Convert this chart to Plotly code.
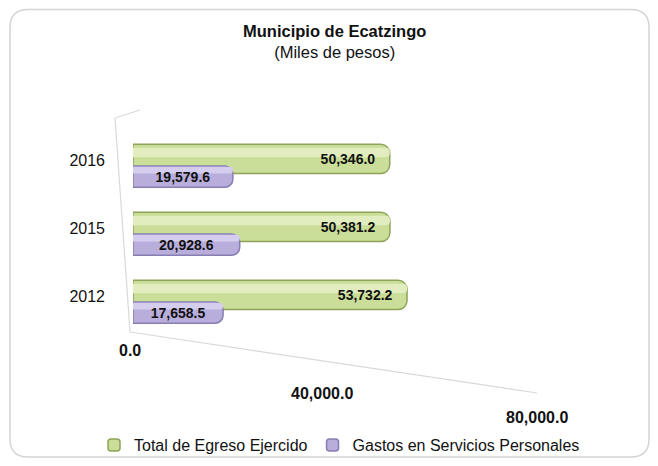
import plotly.graph_objects as go

# ---- data ----
years = ["2012", "2015", "2016"]
total_egreso = [53732.2, 50381.2, 50346.0]
servicios_personales = [17658.5, 20928.6, 19579.6]
x_tick_values = [0, 40000, 80000]
x_tick_labels = ["0.0", "40,000.0", "80,000.0"]
series_names = ["Total de Egreso Ejercido", "Gastos en Servicios Personales"]
title_text = "Municipio de Ecatzingo"
subtitle_text = "(Miles de pesos)"

# ---- geometry: page px -> figure (body margin 8px) ----
OFF = 8
W, H = 650, 450
PL, PT = 133, 126          # plot area top-left in page px
PW, PH = 408, 204
L, T = PL - OFF, PT - OFF
R, B = W - L - PW, H - T - PH


def px(x):
    return (x - PL) / PW


def py(y):
    return (PT + PH - y) / PH


FONT = "Liberation Sans, Arial, sans-serif"
GREEN, GREEN_HI, GREEN_LINE = "#cadd99", "#e1edbf", "#8fa45a"
PURPLE, PURPLE_HI, PURPLE_LINE = "#b9aedb", "#d5cdee", "#877eb2"
TXT = "#111111"
lab_font = dict(family=FONT, size=14, color=TXT, weight="bold")

fig = go.Figure()
# base bars (legend entries)
fig.add_trace(go.Bar(
    y=years, x=total_egreso, orientation="h", name=series_names[0],
    width=0.43, offset=-0.2,
    marker=dict(color=GREEN, line=dict(color=GREEN_LINE, width=1.5), cornerradius=9),
    hoverinfo="x+y",
))
fig.add_trace(go.Bar(
    y=years, x=total_egreso, orientation="h", showlegend=False,
    width=0.14, offset=0.04,
    marker=dict(color=GREEN_HI, line=dict(width=0), cornerradius=4),
    hoverinfo="skip",
))
fig.add_trace(go.Bar(
    y=years, x=servicios_personales, orientation="h", name=series_names[1],
    width=0.31, offset=-0.4,
    marker=dict(color=PURPLE, line=dict(color=PURPLE_LINE, width=1.5), cornerradius=8),
    hoverinfo="x+y",
))
fig.add_trace(go.Bar(
    y=years, x=servicios_personales, orientation="h", showlegend=False,
    width=0.1, offset=-0.2,
    marker=dict(color=PURPLE_HI, line=dict(width=0), cornerradius=3),
    hoverinfo="skip",
))
# value labels (transparent carriers on top)
fig.add_trace(go.Bar(
    y=years, x=total_egreso, orientation="h", showlegend=False,
    width=0.43, offset=-0.2,
    marker=dict(color="rgba(0,0,0,0)", line=dict(width=0)),
    texttemplate="%{x:,.1f}\u00a0\u00a0\u00a0", textposition="inside", insidetextanchor="end",
    textfont=lab_font, constraintext="none", hoverinfo="skip",
))
fig.add_trace(go.Bar(
    y=years, x=servicios_personales, orientation="h", showlegend=False,
    width=0.31, offset=-0.4,
    marker=dict(color="rgba(0,0,0,0)", line=dict(width=0)),
    texttemplate="%{x:,.1f}", textposition="inside", insidetextanchor="middle",
    textfont=lab_font, constraintext="none", hoverinfo="skip",
))

# diagonal (perspective) value-axis labels
tick_y_px = [350, 393, 417]
tick_xshift = [-3, -15, -4]
annotations = []
for v, lab, ty, xs in zip(x_tick_values, x_tick_labels, tick_y_px, tick_xshift):
    annotations.append(dict(
        x=v, xref="x", y=py(ty), yref="paper", text=lab, showarrow=False,
        xanchor="center", yanchor="middle", xshift=xs,
        font=dict(family=FONT, size=16, color=TXT, weight="bold"),
    ))
annotations.append(dict(
    x=px(334), y=py(42), xref="paper", yref="paper",
    text="<b>" + title_text + "</b><br>" + subtitle_text,
    showarrow=False, xanchor="center", yanchor="middle", align="center",
    font=dict(family=FONT, size=16.5, color=TXT),
))

# outer rounded frame + 3D wall/floor edge lines
x0, y0, x1, y1, r = px(10), py(9.5), px(649), py(457), 18
rx, ry = r / PW, r / PH
frame = (f"M {x0+rx},{y0} L {x1-rx},{y0} Q {x1},{y0} {x1},{y0-ry} "
         f"L {x1},{y1+ry} Q {x1},{y1} {x1-rx},{y1} L {x0+rx},{y1} "
         f"Q {x0},{y1} {x0},{y1+ry} L {x0},{y0-ry} Q {x0},{y0} {x0+rx},{y0} Z")
EDGE = dict(color="#d9d9d9", width=1.2)
shapes = [
    dict(type="path", path=frame, xref="paper", yref="paper",
         line=dict(color="#d4d4d4", width=1.5), layer="below"),
    dict(type="line", xref="paper", yref="paper", x0=px(115), y0=py(118), x1=px(130), y1=py(332),
         line=EDGE, layer="below"),
    dict(type="line", xref="paper", yref="paper", x0=px(115), y0=py(118), x1=px(140), y1=py(110),
         line=EDGE, layer="below"),
    dict(type="line", xref="paper", yref="paper", x0=px(130), y0=py(332), x1=px(537), y1=py(393),
         line=EDGE, layer="below"),
]

fig.update_layout(
    width=W, height=H, autosize=False,
    margin=dict(l=L, r=R, t=T, b=B, autoexpand=False),
    paper_bgcolor="white", plot_bgcolor="white",
    barmode="overlay",
    xaxis=dict(range=[0, 80000], showticklabels=False, showgrid=False,
               zeroline=False, showline=False, fixedrange=True, automargin=False),
    yaxis=dict(type="category", categoryorder="array", categoryarray=years,
               range=[-0.5, 2.5], showgrid=False, zeroline=False, showline=False,
               ticks="", ticklabelstandoff=27, fixedrange=True, automargin=False,
               tickfont=dict(family=FONT, size=16, color=TXT)),
    legend=dict(orientation="h", x=px(94), y=py(445), xanchor="left", yanchor="middle",
                font=dict(family=FONT, size=16, color=TXT), traceorder="normal",
                bgcolor="rgba(0,0,0,0)"),
    annotations=annotations,
    shapes=shapes,
    showlegend=True,
)

fig.write_html("out.html")
